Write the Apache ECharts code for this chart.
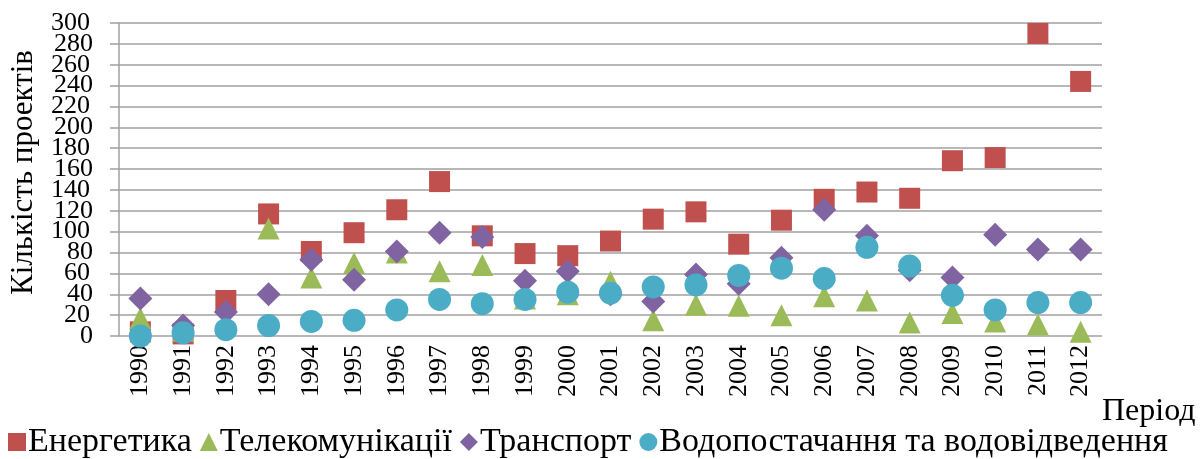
<!DOCTYPE html>
<html>
<head>
<meta charset="utf-8">
<script src="https://cdn.jsdelivr.net/npm/echarts@6/dist/echarts.min.js"></script>
<style>
  html, body { margin: 0; padding: 0; background: #fff; }
  #chart { width: 1203px; height: 459px; }
</style>
</head>
<body>
<div id="chart"></div>
<script>
// роки (категорії)
const years = ['1990','1991','1992','1993','1994','1995','1996','1997','1998','1999','2000','2001',
  '2002','2003','2004','2005','2006','2007','2008','2009','2010','2011','2012']
// значення по секторах
const energy    = [4, 2, 34, 117, 81, 99, 121, 148, 96, 79, 77, 91, 112, 119, 88, 111, 131, 138, 132, 168, 171, 290, 244]
const telecom   = [17, 5, 12, 103, 56, 70, 80, 62, 68, 36, 40, 52, 15, 30, 29, 20, 38, 34, 13, 22, 14, 11, 4]
const transport = [36, 10, 23, 40, 73, 54, 81, 99, 95, 53, 62, 40, 33, 59, 50, 75, 121, 96, 63, 56, 97, 83, 83]
const water     = [0, 3, 6, 10, 14, 15, 25, 35, 31, 35, 42, 41, 47, 49, 58, 65, 55, 85, 67, 39, 25, 32, 32]

const names = ['Енергетика', 'Телекомунікації', 'Транспорт', 'Водопостачання та водовідведення']
const colors = ['#C0504D', '#9BBB59', '#8064A2', '#4BACC6']
const symbols = ['rect', 'triangle', 'diamond', 'circle']
const sizes = [21, 22, 24, 23]
const data = [energy, telecom, transport, water]

const font = '"Liberation Serif", "Times New Roman", serif'
const gridTop = 23, gridBottom = 123
const step = (459 - gridTop - gridBottom) / 15 // пікселів на 20 одиниць

// підписи осі Y: ECharts 6 ховає сусідні підписи, тому парні/непарні десятки на окремих осях
const labelStyle = { margin: 26, fontFamily: font, fontSize: 26, color: '#000', showMaxLabel: false }

let chart = echarts.init(document.getElementById('chart'))
chart.setOption({
  animation: false,
  textStyle: { fontFamily: font },
  grid: [
    { left: 116, right: 101, top: gridTop, bottom: gridBottom },
    { left: 116, right: 101, top: gridTop - step, bottom: gridBottom + step }
  ],
  legend: {
    left: 3,
    top: 420,
    itemGap: 8,
    itemWidth: 18,
    itemHeight: 18,
    textStyle: { fontFamily: font, fontSize: 34, color: '#000', padding: [0, 0, 0, -3] },
    data: names.map((n, i) => ({ name: n, icon: symbols[i] }))
  },
  xAxis: [{
    type: 'category',
    data: years,
    name: 'Період',
    nameLocation: 'end',
    nameGap: 0,
    nameTextStyle: { fontFamily: font, fontSize: 32, color: '#000', align: 'left', verticalAlign: 'top', padding: [60, 0, 0, 0] },
    axisLine: { show: false },
    axisTick: { show: false },
    axisLabel: { rotate: 90, margin: 9, fontFamily: font, fontSize: 26, color: '#000', interval: 0 }
  }, {
    gridIndex: 1, type: 'category', data: years, show: false
  }],
  yAxis: [{
    type: 'value',
    min: 0,
    max: 300,
    interval: 20,
    name: 'Кількість проектів',
    nameLocation: 'middle',
    nameGap: 80,
    nameTextStyle: { fontFamily: font, fontSize: 31, color: '#000', padding: [0, 0, 0, 14] },
    axisLine: { show: true, lineStyle: { color: '#a0a0a0', width: 1.5 } },
    axisTick: { show: true, length: 9, lineStyle: { color: '#a0a0a0', width: 1.5 } },
    axisLabel: { show: false },
    splitLine: { lineStyle: { color: '#a0a0a0', width: 1.5 } }
  }, {
    // 0, 40, ... 280
    type: 'value', position: 'left', min: 0, max: 300, interval: 40,
    axisLine: { show: false }, axisTick: { show: false }, splitLine: { show: false },
    axisLabel: labelStyle
  }, {
    // 20, 60, ... 300
    gridIndex: 1, type: 'value', position: 'left', min: 20, max: 320, interval: 40,
    axisLine: { show: false }, axisTick: { show: false }, splitLine: { show: false },
    axisLabel: labelStyle
  }],
  series: data.map((d, i) => ({
    name: names[i],
    type: 'scatter',
    symbol: symbols[i],
    symbolSize: sizes[i],
    itemStyle: { color: colors[i], opacity: 1 },
    data: d
  }))
})
</script>
</body>
</html>
